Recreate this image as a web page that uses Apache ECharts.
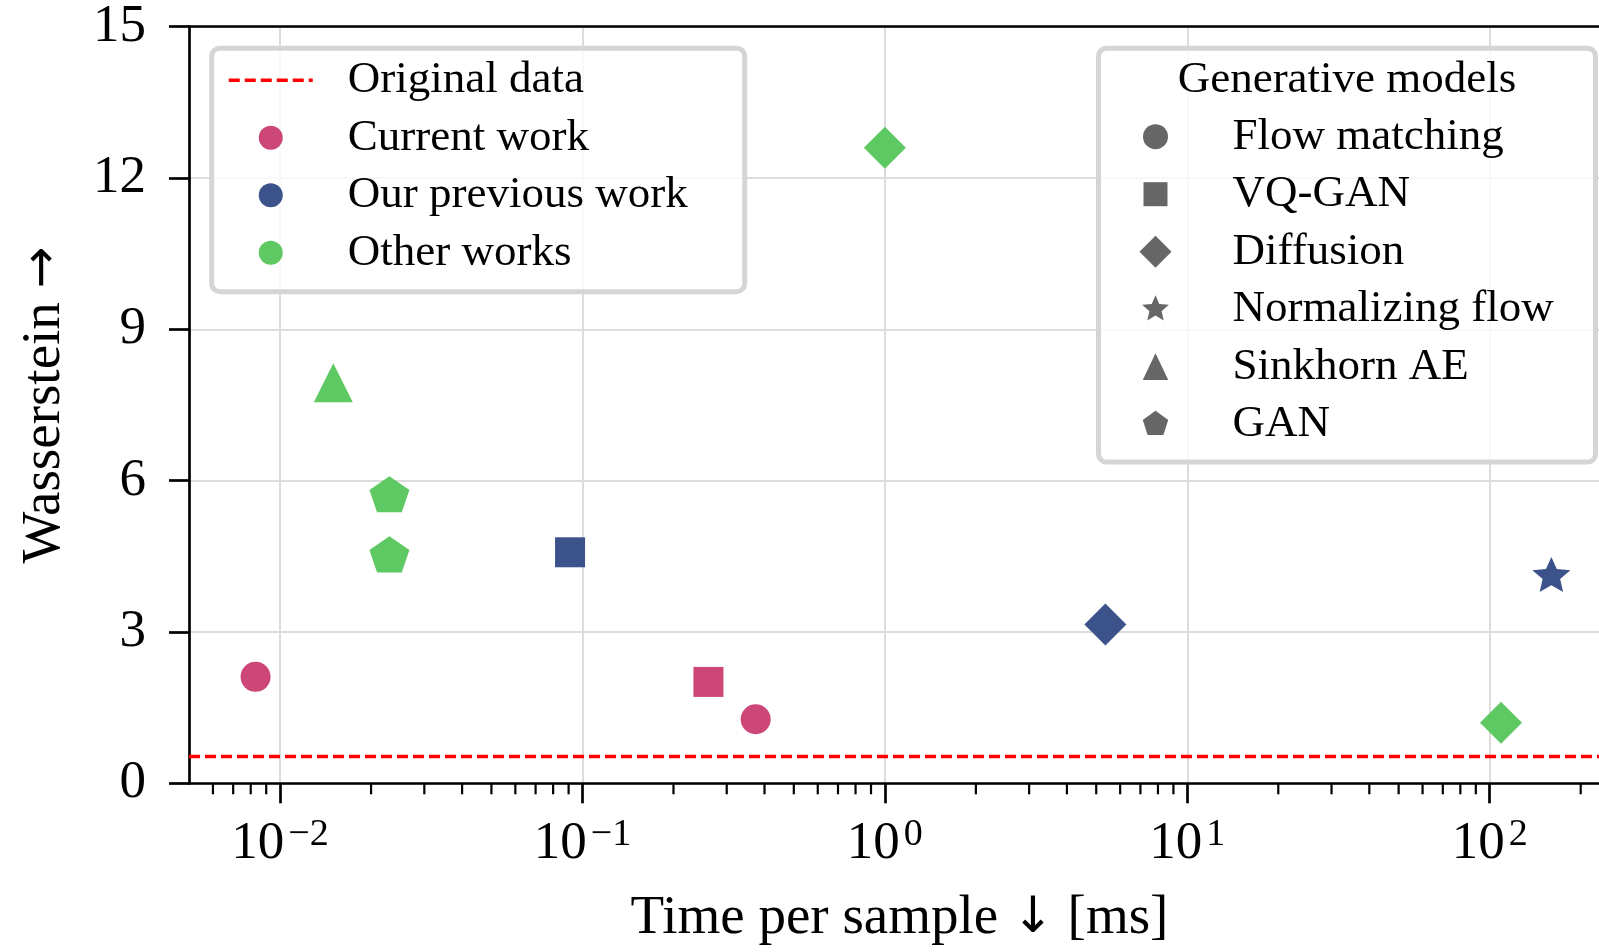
<!DOCTYPE html>
<html>
<head>
<meta charset="utf-8">
<title>Wasserstein vs time per sample</title>
<script src="https://cdn.jsdelivr.net/npm/echarts@6.0.0/dist/echarts.min.js"></script>
<style>
  html, body { margin: 0; padding: 0; background: #fff; }
  #main { width: 1599px; height: 952px; }
</style>
</head>
<body>
<div id="main"></div>
<script>
// data
const groups = ['Current work', 'Our previous work', 'Other works'];
const groupColors = ['#cc4778', '#3b528b', '#5ec962'];
const models = ['Flow matching', 'VQ-GAN', 'Diffusion', 'Normalizing flow', 'Sinkhorn AE', 'GAN'];

const currentTime = [0.0083, 0.261, 0.374];
const currentW = [2.11, 2.01, 1.27];
const currentModel = ['Flow matching', 'VQ-GAN', 'Flow matching'];

const previousTime = [0.091, 5.36, 160];
const previousW = [4.58, 3.15, 4.10];
const previousModel = ['VQ-GAN', 'Diffusion', 'Normalizing flow'];

const otherTime = [0.015, 0.023, 0.023, 1.0, 109];
const otherW = [7.94, 5.69, 4.50, 12.60, 1.20];
const otherModel = ['Sinkhorn AE', 'GAN', 'GAN', 'Diffusion', 'Diffusion'];

const originalW = 0.53;

const xMin = 0.005;
const xMax = 250;
const xMajorTicks = [0.01, 0.1, 1, 10, 100];
const xMinorTicks = [0.006, 0.007, 0.008, 0.009,
    0.02, 0.03, 0.04, 0.05, 0.06, 0.07, 0.08, 0.09,
    0.2, 0.3, 0.4, 0.5, 0.6, 0.7, 0.8, 0.9,
    2, 3, 4, 5, 6, 7, 8, 9,
    20, 30, 40, 50, 60, 70, 80, 90,
    200];
const yMin = 0, yMax = 15, yStep = 3;

const FONT = 'Liberation Serif';
const ARROW_FONT = 'DejaVu Sans';
const RED_DASH = { color: '#ff0000', width: 3.5, type: [11, 5] };

// marker glyphs (star / pentagon like matplotlib '*' and 'p')
function polygon(n, rOut, rIn, cx, cy) {
    const k = rIn ? 2 * n : n;
    const pts = [];
    for (let i = 0; i < k; i++) {
        const a = -Math.PI / 2 + i * Math.PI * 2 / k;
        const r = (rIn && i % 2) ? rIn : rOut;
        pts.push((cx + r * Math.cos(a)).toFixed(2) + ' ' + (cy + r * Math.sin(a)).toFixed(2));
    }
    return 'M' + pts.join(' L') + ' Z';
}
const starPath = 'path://' + polygon(5, 100, 46, 100, 100);
const pentPath = 'path://' + polygon(5, 100, 0, 100, 100);

const markers = {
    'Flow matching': { symbol: 'circle', size: 30 },
    'VQ-GAN': { symbol: 'rect', size: 30 },
    'Diffusion': { symbol: 'diamond', size: 42 },
    'Normalizing flow': { symbol: starPath, size: [38, 37], offset: [0, -2] },
    'Sinkhorn AE': { symbol: 'triangle', size: 39 },
    'GAN': { symbol: pentPath, size: [40, 38], offset: [0, -2] }
};

// legend icons in a 32x32 frame (the bare moves fix the frame)
function frame(d) { return 'path://M0 0 ' + d + ' M32 32'; }
const legendIcons = {
    'Flow matching': frame('M3.5 16 A12.5 12.5 0 1 0 28.5 16 A12.5 12.5 0 1 0 3.5 16 Z'),
    'VQ-GAN': frame('M4 4 L28 4 L28 28 L4 28 Z'),
    'Diffusion': frame('M16 0 L32 16 L16 32 L0 16 Z'),
    'Normalizing flow': frame(polygon(5, 14, 6.4, 16, 16)),
    'Sinkhorn AE': frame('M16 2.65 L28.75 29.35 L3.25 29.35 Z'),
    'GAN': frame(polygon(5, 13.4, 0, 16, 16))
};

function points(times, values, kinds) {
    return times.map(function (t, i) {
        const m = markers[kinds[i]];
        return {
            value: [t, values[i]],
            symbol: m.symbol,
            symbolSize: m.size,
            symbolOffset: m.offset || [0, 0]
        };
    });
}

const groupData = [
    points(currentTime, currentW, currentModel),
    points(previousTime, previousW, previousModel),
    points(otherTime, otherW, otherModel)
];

const series = [{
    name: 'Original data',
    type: 'line',
    data: [[xMin, originalW], [xMax, originalW]],
    symbol: 'none',
    showSymbol: false,
    silent: true,
    z: 3,
    itemStyle: { color: '#ff0000' },
    lineStyle: RED_DASH
}];
groups.forEach(function (g, i) {
    series.push({
        name: g,
        type: 'scatter',
        data: groupData[i],
        symbolKeepAspect: true,
        itemStyle: { color: groupColors[i], opacity: 1 },
        z: 4
    });
});
models.forEach(function (m) {
    series.push({ name: m, type: 'scatter', data: [], itemStyle: { color: '#666666', opacity: 1 } });
});
// minor ticks of the log axis
series.push({
    name: 'minor ticks',
    type: 'custom',
    silent: true,
    clip: false,
    z: 6,
    data: xMinorTicks.map(function (v) { return [v, yMin]; }),
    renderItem: function (params, api) {
        const p = api.coord([api.value(0), yMin]);
        return {
            type: 'line',
            shape: { x1: p[0], y1: p[1], x2: p[0], y2: p[1] + 11 },
            style: { stroke: '#000', lineWidth: 2.2 }
        };
    }
});

const legendText = { fontFamily: FONT, fontSize: 45, color: '#000', lineHeight: 50 };
const legendBox = {
    orient: 'vertical',
    align: 'left',
    selectedMode: false,
    backgroundColor: 'rgba(255,255,255,0.8)',
    borderColor: '#d5d5d5',
    borderWidth: 5,
    borderRadius: 8,
    itemGap: 7.5
};

const nameStyle = {
    fontFamily: FONT, fontSize: 55, color: '#000',
    rich: { a: { fontFamily: ARROW_FONT, fontSize: 50, color: '#000' } }
};

const option = {
    animation: false,
    backgroundColor: '#ffffff',
    textStyle: { fontFamily: FONT },
    grid: { left: 189, right: -11, top: 26.7, bottom: 168.7, containLabel: false, outerBoundsMode: 'none' },
    legend: [
        Object.assign({}, legendBox, {
            left: 211.7,
            top: 48.2,
            padding: [7, 14, 14, 15.3],
            itemWidth: 84,
            itemHeight: 24,
            lineStyle: RED_DASH,
            textStyle: Object.assign({ width: 383, padding: [0, 0, 0, 30] }, legendText),
            data: [{ name: 'Original data', itemStyle: { color: 'rgba(0,0,0,0)', opacity: 0, borderWidth: 0 } }]
                .concat(groups.map(function (g) { return { name: g, icon: 'circle' }; }))
        }),
        Object.assign({}, legendBox, {
            left: 1098.5,
            top: 48.2,
            padding: [63.5, 14, 12.8, 41],
            itemWidth: 32,
            itemHeight: 32,
            symbolKeepAspect: true,
            textStyle: Object.assign({ width: 349, padding: [0, 0, 0, 56] }, legendText),
            data: models.map(function (m) { return { name: m, icon: legendIcons[m] }; })
        })
    ],
    graphic: [{
        type: 'text',
        x: 1347,
        y: 80,
        z: 100,
        style: {
            text: 'Generative models',
            fontFamily: FONT,
            fontSize: 45,
            fill: '#000',
            align: 'center',
            verticalAlign: 'middle'
        }
    }],
    xAxis: [{
        type: 'log',
        logBase: 10,
        min: xMin,
        max: xMax,
        name: 'Time per sample {a|\u2193} [ms]',
        nameLocation: 'middle',
        nameGap: 108,
        nameTextStyle: nameStyle,
        axisLine: { show: true, onZero: false, lineStyle: { color: '#000', width: 2.7 } },
        axisTick: { show: true, customValues: xMajorTicks, length: 20, lineStyle: { color: '#000', width: 2.7 } },
        axisLabel: {
            customValues: xMajorTicks,
            margin: 33,
            formatter: function (v) {
                const e = Math.round(Math.log10(v));
                return '{b|10}{s|' + (e < 0 ? '\u2212' + (-e) : e) + '}';
            },
            rich: {
                b: { fontFamily: FONT, fontSize: 53, color: '#000', lineHeight: 56 },
                s: { fontFamily: FONT, fontSize: 38, color: '#000', lineHeight: 20, verticalAlign: 'top', padding: [0, 0, 0, 4] }
            }
        },
        splitLine: { show: true, lineStyle: { color: '#dcdcdc', width: 2 } },
        minorTick: { show: false },
        minorSplitLine: { show: false }
    }, {
        type: 'log',
        logBase: 10,
        min: xMin,
        max: xMax,
        position: 'top',
        axisLine: { show: true, onZero: false, lineStyle: { color: '#000', width: 2.7 } },
        axisTick: { show: false },
        axisLabel: { show: false },
        splitLine: { show: false }
    }],
    yAxis: {
        type: 'value',
        min: yMin,
        max: yMax,
        interval: yStep,
        name: 'Wasserstein {a|\u2192}',
        nameLocation: 'middle',
        nameGap: 117,
        nameTextStyle: nameStyle,
        axisLine: { show: true, lineStyle: { color: '#000', width: 2.7 } },
        axisTick: { show: true, length: 20, lineStyle: { color: '#000', width: 2.7 } },
        axisLabel: { margin: 43, fontFamily: FONT, fontSize: 53, color: '#000' },
        splitLine: { show: true, lineStyle: { color: '#dcdcdc', width: 2 } }
    },
    series: series
};

const chart = echarts.init(document.getElementById('main'), null, { renderer: 'canvas' });
chart.setOption(option);
</script>
</body>
</html>
